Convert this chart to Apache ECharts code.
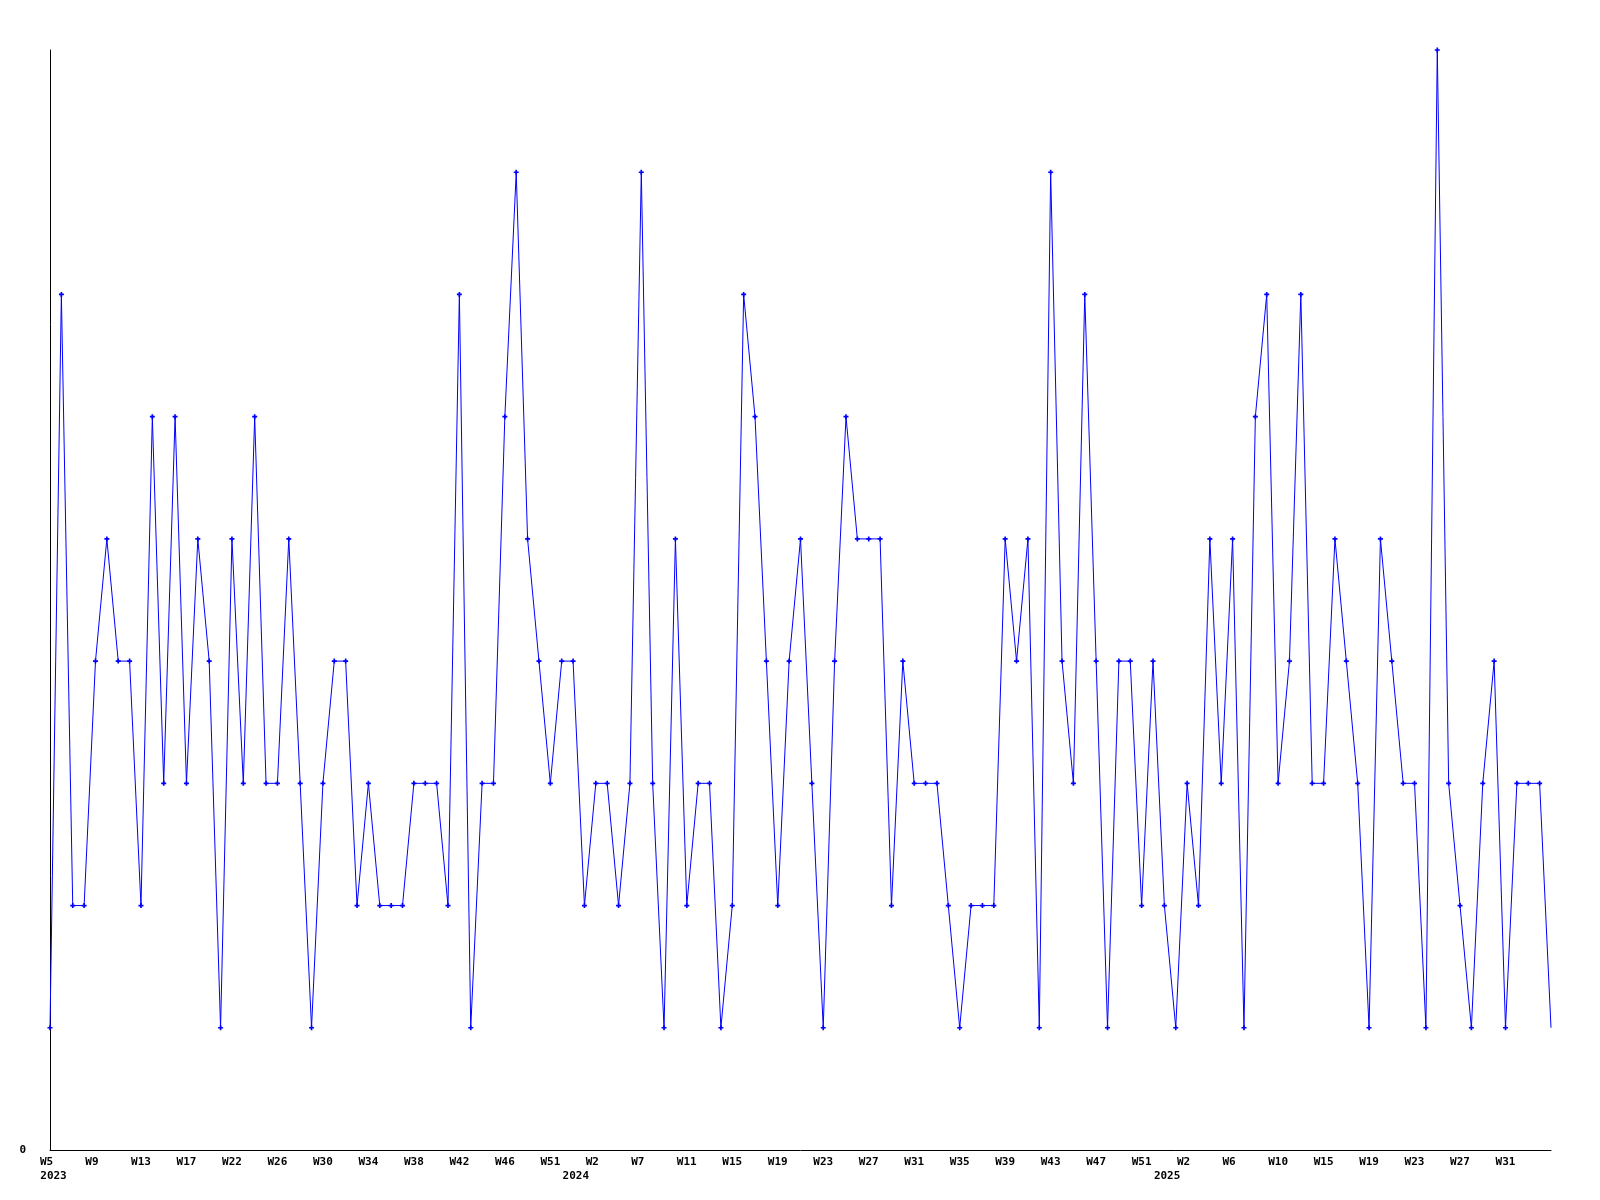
<!DOCTYPE html>
<html>
<head>
<meta charset="utf-8">
<script src="https://cdn.jsdelivr.net/npm/echarts@6/dist/echarts.min.js"></script>
<style>
html,body{margin:0;padding:0;background:#ffffff;}
#chart{width:1600px;height:1200px;}
</style>
</head>
<body>
<div id="chart"></div>
<script>
// Weekly values, starting at 2023 W5
const values = [
  1,7,2,2,4,5,4,4,2,6,
  3,6,3,5,4,1,5,3,6,3,
  3,5,3,1,3,4,4,2,3,2,
  2,2,3,3,3,2,7,1,3,3,
  6,8,5,4,3,4,4,2,3,3,
  2,3,8,3,1,5,2,3,3,1,
  2,7,6,4,2,4,5,3,1,4,
  6,5,5,5,2,4,3,3,3,2,
  1,2,2,2,5,4,5,1,8,4,
  3,7,4,1,4,4,2,4,2,1,
  3,2,5,3,5,1,6,7,3,4,
  7,3,3,5,4,3,1,5,4,3,
  3,1,9,3,2,1,3,4,1,3,
  3,3,1
];
// Tick labels, one every 4 weeks
const weekTickLabels = [
  'W5','W9','W13','W17','W22','W26','W30','W34','W38','W42','W46','W51',
  'W2','W7','W11','W15','W19','W23','W27','W31','W35','W39','W43','W47','W51',
  'W2','W6','W10','W15','W19','W23','W27','W31'
];
const yearLabels = ['2023','2024','2025'];
const yearTickIndex = [0, 12, 25]; // which tick label each year goes under
const TICK_STEP = 4;

const categories = values.map((_, i) => String(i));

const FONT = 'DejaVu Sans Mono';
const baseText = {fontFamily: FONT, fontSize: 11, fontWeight: 'bold', color: '#000'};

function isTick(idx) {
  return idx % TICK_STEP === 0 && idx / TICK_STEP < weekTickLabels.length;
}

const seriesData = values.map((v, i) => (i === values.length - 1 ? {value: v, symbol: 'none'} : v));

const chart = echarts.init(document.getElementById('chart'), null, {renderer: 'canvas'});
chart.setOption({
  backgroundColor: '#ffffff',
  animation: false,
  grid: {left: 50, right: 49, top: 50, bottom: 50, containLabel: false},
  xAxis: [
    {
      type: 'category',
      data: categories,
      boundaryGap: false,
      position: 'bottom',
      axisLine: {show: true, onZero: false, lineStyle: {color: '#000', width: 1}},
      axisTick: {show: false},
      splitLine: {show: false},
      axisLabel: {
        interval: (idx) => isTick(idx),
        margin: 7,
        formatter: (val, idx) => {
          const i = Number(val);
          if (!isTick(i)) return '';
          const t = weekTickLabels[i / TICK_STEP];
          return t.length === 2 ? '{s|' + t + '}' : '{n|' + t + '}';
        },
        rich: {
          s: Object.assign({padding: [0, 7, 0, 0]}, baseText),
          n: Object.assign({}, baseText)
        }
      }
    },
    {
      type: 'category',
      data: categories,
      boundaryGap: false,
      position: 'bottom',
      offset: 0,
      axisLine: {show: false},
      axisTick: {show: false},
      splitLine: {show: false},
      axisLabel: {
        interval: (idx) => isTick(idx) && yearTickIndex.indexOf(idx / TICK_STEP) >= 0,
        margin: 21,
        formatter: (val) => {
          const i = Number(val);
          if (!isTick(i)) return '';
          const yi = yearTickIndex.indexOf(i / TICK_STEP);
          if (yi < 0) return '';
          return yi === 0 ? '{f|' + yearLabels[yi] + '}' : '{o|' + yearLabels[yi] + '}';
        },
        rich: {
          f: Object.assign({padding: [0, 0, 0, 7]}, baseText),
          o: Object.assign({padding: [0, 40, 0, 0]}, baseText)
        }
      }
    }
  ],
  yAxis: {
    type: 'value',
    min: 0,
    max: 9,
    interval: 9,
    axisLine: {show: true, lineStyle: {color: '#000', width: 1}},
    axisTick: {show: false},
    splitLine: {show: false},
    axisLabel: Object.assign({
      margin: 24,
      formatter: (v) => (v === 0 ? '0' : '')
    }, baseText)
  },
  series: [{
    type: 'line',
    xAxisIndex: 0,
    data: seriesData,
    symbol: 'path://M2,0H4V2H6V4H4V6H2V4H0V2H2Z',
    symbolSize: 5,
    showAllSymbol: true,
    lineStyle: {color: '#0000ff', width: 1},
    itemStyle: {color: '#0000ff'},
    emphasis: {disabled: true},
    clip: false
  }]
});
</script>
</body>
</html>
